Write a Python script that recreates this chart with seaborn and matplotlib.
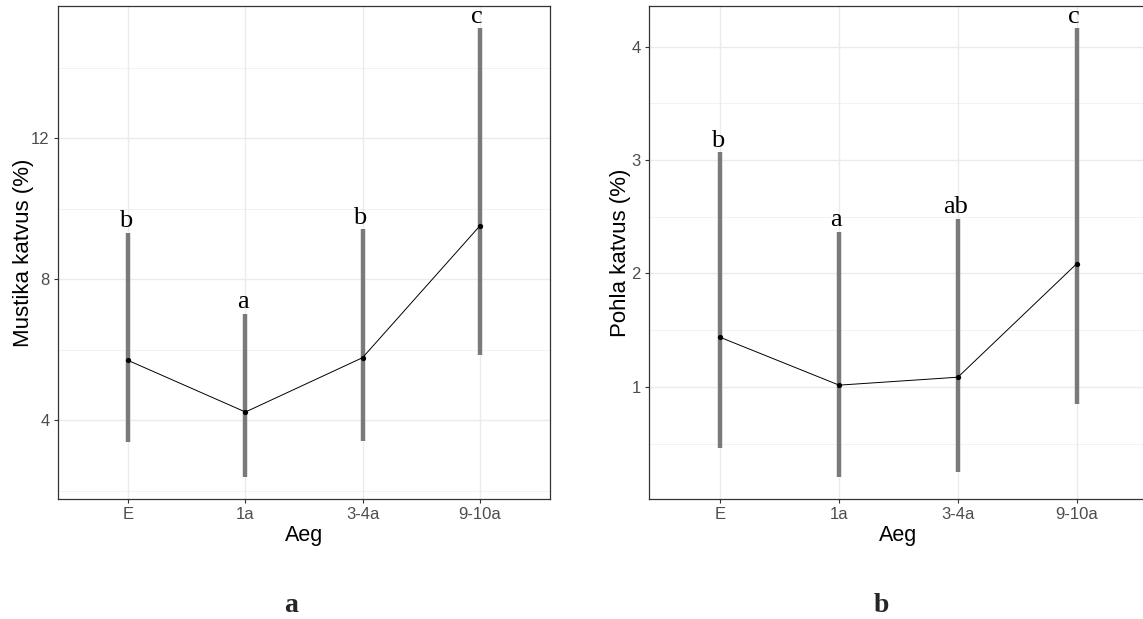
import matplotlib
matplotlib.use("Agg")
import matplotlib.pyplot as plt
import seaborn as sns
import numpy as np
import pandas as pd

categories = ["E", "1a", "3-4a", "9-10a"]

mustika_mean = [5.70, 4.24, 5.78, 9.51]
mustika_low = [3.38, 2.41, 3.43, 5.85]
mustika_high = [9.32, 7.03, 9.42, 15.11]
mustika_letters = ["b", "a", "b", "c"]
mustika_ticks = [4, 8, 12]
mustika_minor = [2, 6, 10, 14]

pohla_mean = [1.437, 1.016, 1.086, 2.086]
pohla_low = [0.46, 0.21, 0.25, 0.85]
pohla_high = [3.07, 2.37, 2.48, 4.16]
pohla_letters = ["b", "a", "ab", "c"]
pohla_ticks = [1, 2, 3, 4]
pohla_minor = [0.5, 1.5, 2.5, 3.5]

panel_labels = ["a", "b"]
ylabels = ["Mustika katvus (%)", "Pohla katvus (%)"]
xlabel = "Aeg"

sns.set_theme(style="white")
plt.rcParams["font.family"] = ["Liberation Sans", "DejaVu Sans"]

W, H = 1143, 619
fig = plt.figure(figsize=(W / 100, H / 100), dpi=100)
ax1 = fig.add_axes([58 / W, 1 - 499 / H, 492 / W, 493 / H])
ax2 = fig.add_axes([649 / W, 1 - 499 / H, 499 / W, 493 / H])

panels = [
    (ax1, mustika_mean, mustika_low, mustika_high, mustika_letters, mustika_ticks, mustika_minor, -2),
    (ax2, pohla_mean, pohla_low, pohla_high, pohla_letters, pohla_ticks, pohla_minor, 0.5),
]

for k, (ax, mean, low, high, letters, ticks, minor, lpad) in enumerate(panels):
    df = pd.DataFrame({"Aeg": categories, "mean": mean, "low": low, "high": high})
    pos = np.arange(len(categories))
    ax.set_facecolor("white")
    # grid
    for t in ticks:
        ax.axhline(t, color="#EBEBEB", lw=1.0, zorder=0)
    for t in minor:
        ax.axhline(t, color="#F2F2F2", lw=0.7, zorder=0)
    for p in pos:
        ax.axvline(p, color="#EBEBEB", lw=1.0, zorder=0)
    # error bars
    ax.vlines(pos, df["low"], df["high"], color="#7A7A7A", lw=3.2, zorder=2)
    # mean line + points
    sns.lineplot(x=pos, y=df["mean"].values, ax=ax, color="black", lw=0.7,
                 marker="o", markersize=3.8, markeredgewidth=0, zorder=3)
    # letters
    for p, hi, lab in zip(pos, high, letters):
        ax.annotate(lab, xy=(p, hi), xytext=(-2, 4), textcoords="offset points",
                    ha="center", va="baseline", fontsize=19,
                    family=["Liberation Serif"], color="black", zorder=4,
                    annotation_clip=False)
    span = max(high) - min(low)
    ax.set_ylim(min(low) - 0.05 * span, max(high) + 0.05 * span)
    ax.set_xlim(-0.6, len(categories) - 0.4)
    ax.set_xticks(pos)
    ax.set_xticklabels(categories)
    ax.set_yticks(ticks)
    ax.set_yticklabels([str(t) for t in ticks])
    ax.tick_params(axis="both", which="major", length=3, width=0.8, color="#333333",
                   labelsize=12, labelcolor="#4D4D4D", pad=3, bottom=True, left=True)
    for s in ax.spines.values():
        s.set_color("#333333")
        s.set_linewidth(0.9)
        s.set_visible(True)
    ax.set_xlabel(xlabel, fontsize=15.5, color="black", labelpad=2)
    ax.set_ylabel(ylabels[k], fontsize=16, color="black", labelpad=lpad)
    ax.grid(False)

fig.text(291 / W, 1 - 605 / H, panel_labels[0], ha="center", va="center",
         fontsize=20, fontweight="bold", family=["Liberation Serif"])
fig.text(881 / W, 1 - 605 / H, panel_labels[1], ha="center", va="center",
         fontsize=20, fontweight="bold", family=["Liberation Serif"])

fig.savefig("out.png", dpi=100, facecolor="white")
